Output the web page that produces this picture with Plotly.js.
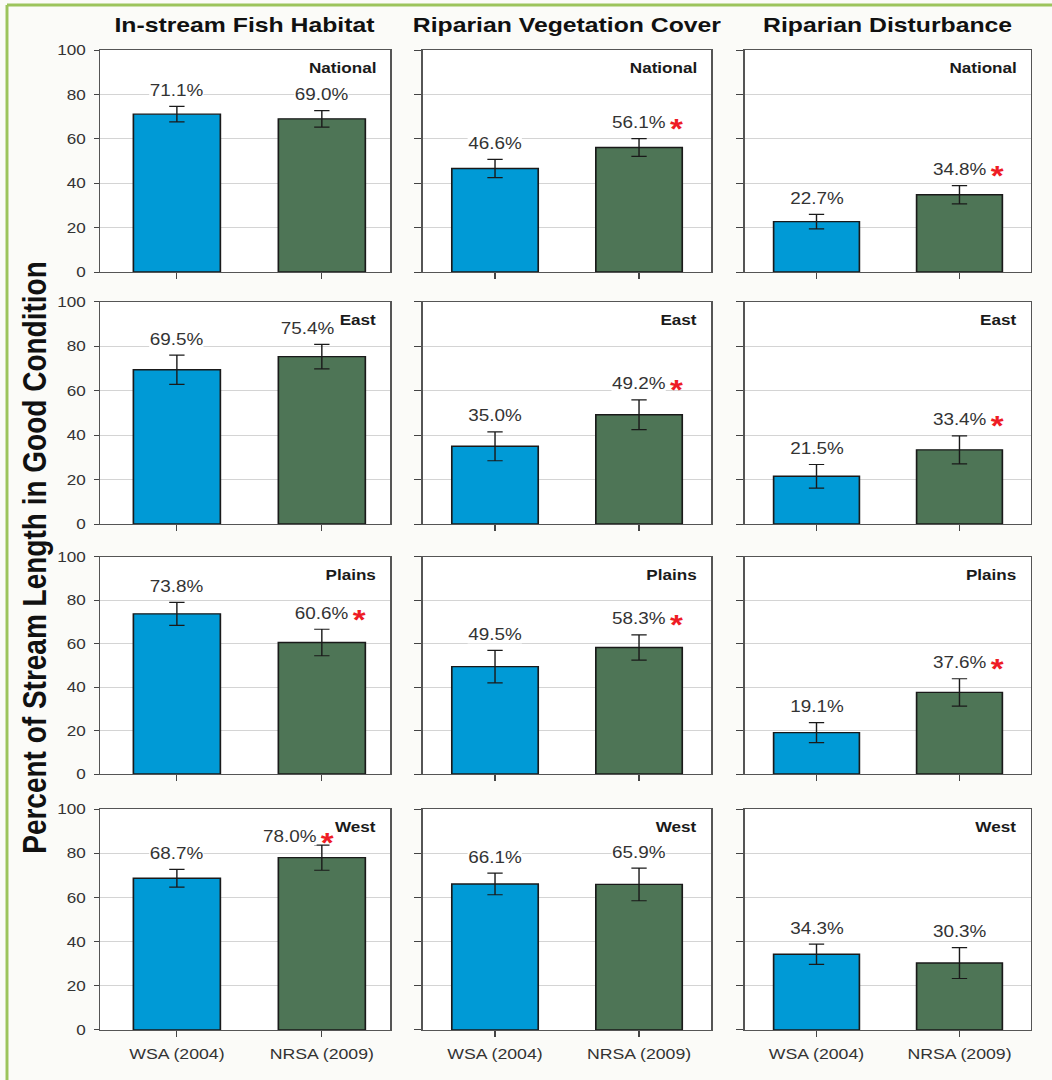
<!DOCTYPE html>
<html><head><meta charset="utf-8">
<script src="https://cdn.plot.ly/plotly-3.0.1.min.js"></script>
<style>
html,body{margin:0;padding:0;background:#fbfbf8;overflow:hidden;}
#wrap{width:1052px;height:1080px;overflow:hidden;}
#chart{width:892px;height:1080px;transform:scaleX(1.17937);transform-origin:0 0;}
</style></head><body><div id="wrap"><div id="chart"></div></div>
<script>
// ---- data ----
const measures = ['In-stream Fish Habitat', 'Riparian Vegetation Cover', 'Riparian Disturbance'];
const regions = ['National', 'East', 'Plains', 'West'];
const surveys = ['WSA (2004)', 'NRSA (2009)'];
const yTickVals = [0, 20, 40, 60, 80, 100];

const fishWSA  = [71.1, 69.5, 73.8, 68.7];
const fishNRSA = [69.0, 75.4, 60.6, 78.0];
const vegWSA   = [46.6, 35.0, 49.5, 66.1];
const vegNRSA  = [56.1, 49.2, 58.3, 65.9];
const distWSA  = [22.7, 21.5, 19.1, 34.3];
const distNRSA = [34.8, 33.4, 37.6, 30.3];

const fishWSAErr  = [3.5, 6.6, 5.3, 4.0];
const fishNRSAErr = [3.7, 5.5, 6.1, 5.7];
const vegWSAErr   = [4.1, 6.5, 7.5, 4.9];
const vegNRSAErr  = [4.0, 6.7, 5.8, 7.4];
const distWSAErr  = [3.3, 5.3, 4.6, 4.6];
const distNRSAErr = [4.1, 6.3, 6.3, 7.0];

const fishSig = [false, false, true, true];
const vegSig  = [true, true, true, false];
const distSig = [true, true, true, false];

const wsaByMeasure  = [fishWSA, vegWSA, distWSA];
const nrsaByMeasure = [fishNRSA, vegNRSA, distNRSA];
const wsaErrByMeasure  = [fishWSAErr, vegWSAErr, distWSAErr];
const nrsaErrByMeasure = [fishNRSAErr, vegNRSAErr, distNRSAErr];
const sigByMeasure = [fishSig, vegSig, distSig];

// ---- style ----
const FONT = '"Liberation Sans", Arial, sans-serif';
const BLUE = '#009ad6';
const GREEN = '#4e7556';
const xDom = [[0.0951, 0.3707], [0.4021, 0.6759], [0.7082, 0.9800]];
const yDom = [[0.7481, 0.9537], [0.5148, 0.7204], [0.2833, 0.4843], [0.0463, 0.2509]];
const xRanges = [[-0.53, 1.47], [-0.5, 1.5], [-0.5, 1.5]];
// label nudges (layout only): [measure-region] -> pixel offsets for the NRSA label
const labelNudge = {'0-1': {dx: -12, dy: 0}, '0-3': {dx: -27, dy: -7}};

const traces = [];
const layout = {
  width: 892, height: 1080,
  margin: {l: 0, r: 0, t: 0, b: 0},
  paper_bgcolor: '#fbfbf8',
  plot_bgcolor: '#ffffff',
  showlegend: false,
  font: {family: FONT, color: '#333'},
  annotations: [],
  shapes: [
    {type: 'line', xref: 'paper', yref: 'paper', x0: 7/1052, x1: 7/1052, y0: 0, y1: 1 - 5/1080, line: {color: '#9cc45c', width: 2.5}},
    {type: 'line', xref: 'paper', yref: 'paper', x0: 7/1052, x1: 1, y0: 1 - 5/1080, y1: 1 - 5/1080, line: {color: '#9cc45c', width: 3}}
  ]
};

for (let r = 0; r < regions.length; r++) {
  for (let c = 0; c < measures.length; c++) {
    const n = r * 3 + c + 1;
    const xa = 'x' + (n === 1 ? '' : n), ya = 'y' + (n === 1 ? '' : n);
    const xk = 'xaxis' + (n === 1 ? '' : n), yk = 'yaxis' + (n === 1 ? '' : n);
    const vals = [wsaByMeasure[c][r], nrsaByMeasure[c][r]];
    const errs = [wsaErrByMeasure[c][r], nrsaErrByMeasure[c][r]];
    traces.push({
      type: 'bar', x: surveys, y: vals, xaxis: xa, yaxis: ya,
      width: 0.6,
      marker: {color: [BLUE, GREEN], line: {color: '#1a1a1a', width: 1.4}},
      error_y: {type: 'data', array: errs, visible: true, color: '#1a1a1a', thickness: 1.2, width: 6.5},
      hoverinfo: 'none'
    });
    layout[xk] = {
      domain: xDom[c], anchor: ya, type: 'category', range: xRanges[c],
      showline: true, linecolor: '#555', linewidth: 1.3, mirror: true,
      ticks: 'outside', ticklen: 6, tickcolor: '#444', tickwidth: 1,
      showticklabels: r === regions.length - 1,
      tickfont: {family: FONT, size: 15, color: '#333'},
      ticklabelstandoff: 4,
      showgrid: false, zeroline: false, fixedrange: true
    };
    layout[yk] = {
      domain: yDom[r], anchor: xa, range: [0, 100],
      tickvals: yTickVals,
      showline: true, linecolor: '#555', linewidth: 1.3, mirror: true,
      ticks: 'outside', ticklen: c === 0 ? 4 : 6, tickcolor: '#444', tickwidth: 1,
      showticklabels: c === 0,
      tickfont: {family: FONT, size: 14.5, color: '#333'},
      ticklabelstandoff: 4,
      showgrid: true, gridcolor: '#d4d4d4', gridwidth: 1,
      zeroline: false, fixedrange: true
    };
    // value labels
    for (let i = 0; i < 2; i++) {
      const nudge = (i === 1 && labelNudge[c + '-' + r]) || {dx: 0, dy: 0};
      layout.annotations.push({
        xref: xa, yref: ya, x: surveys[i], y: vals[i] + errs[i],
        text: vals[i].toFixed(1) + '%', showarrow: false,
        xanchor: 'center', yanchor: 'middle', xshift: nudge.dx, yshift: 16 + nudge.dy,
        font: {family: FONT, size: 16, color: '#333'},
        bgcolor: '#ffffff', borderpad: 0
      });
      if (i === 1 && sigByMeasure[c][r]) {
        layout.annotations.push({
          xref: xa, yref: ya, x: surveys[i], y: vals[i] + errs[i],
          text: '<b>*</b>', showarrow: false,
          xanchor: 'center', yanchor: 'middle', xshift: 32 + nudge.dx, yshift: 10 + nudge.dy,
          font: {family: FONT, size: 28, color: '#ee1c25'}
        });
      }
    }
    // region label
    layout.annotations.push({
      xref: xa + ' domain', yref: ya + ' domain', x: 1, y: 1,
      xanchor: 'right', yanchor: 'top', xshift: -10, yshift: -8,
      text: '<b>' + regions[r] + '</b>', showarrow: false,
      font: {family: FONT, size: 14.5, color: '#1a1a1a'}
    });
  }
}

// column titles
for (let c = 0; c < measures.length; c++) {
  layout.annotations.push({
    xref: 'paper', yref: 'paper', x: (xDom[c][0] + xDom[c][1]) / 2, y: 1 - 24 / 1080,
    xanchor: 'center', yanchor: 'middle', showarrow: false,
    text: '<b>' + measures[c] + '</b>',
    font: {family: FONT, size: 21, color: '#111'}
  });
}
// y title
layout.annotations.push({
  xref: 'paper', yref: 'paper', x: 34 / 1052, y: 1 - 557 / 1080,
  xanchor: 'center', yanchor: 'middle', showarrow: false, textangle: -90,
  text: '<b>Percent of Stream Length in Good Condition</b>',
  font: {family: FONT, size: 28, color: '#111'}
});

Plotly.newPlot('chart', traces, layout, {displayModeBar: false, staticPlot: true});
</script></body></html>
